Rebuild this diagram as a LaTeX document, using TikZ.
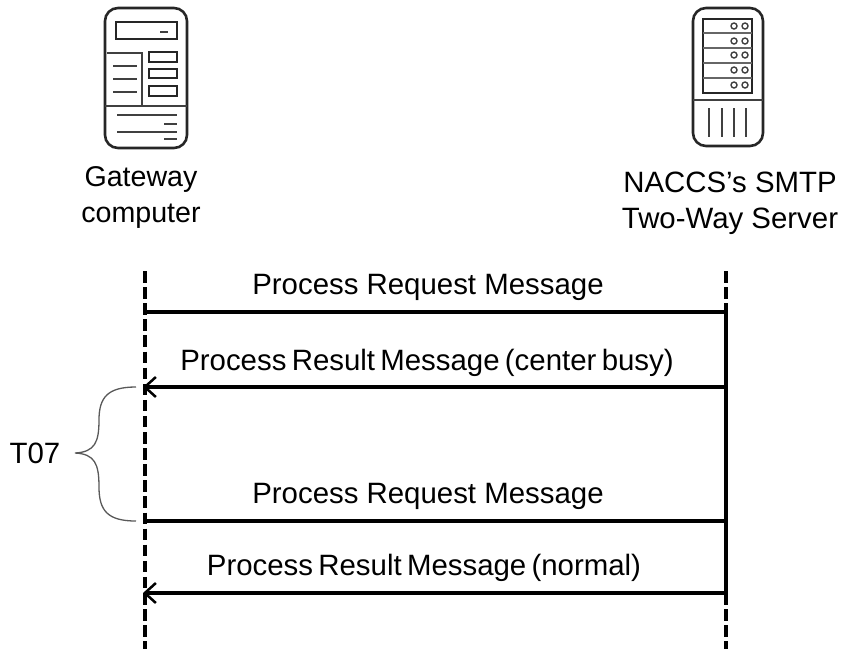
\documentclass[tikz,border=0pt]{standalone}
\usepackage{fontspec}
\setmainfont{Liberation Sans}
\newcommand{\tightspace}{\spaceskip=5.3pt\relax}
\tikzset{
  lifeline/.style={line width=4pt,dash pattern=on 11.5pt off 4.6pt},
  msgline/.style={line width=3.5pt},
  msgarrow/.style={msgline,-{Straight Barb[length=11pt,width=20pt,line width=2.5pt]}},
  msgtext/.style={font=\fontsize{29.4}{36}\selectfont,inner sep=0pt},
  captext/.style={msgtext,align=center},
  iconthick/.style={draw=black!85,line width=2.6pt},
  iconthin/.style={draw=black!75,line width=1.4pt},
  bracket/.style={draw=black!65,line width=1.3pt}
}
\usetikzlibrary{arrows.meta}
\begin{document}
\begin{tikzpicture}[x=1pt,y=-1pt]
\useasboundingbox (0,0) rectangle (845,649);
\newcommand{\gwx}{145}
\newcommand{\srvx}{726}

% gateway computer
\draw[iconthick,rounded corners=13pt] (105,8) rectangle (187,148);
\draw[iconthick] (116,22) rectangle (177,39);
\draw[iconthin] (160,32) -- (168,32);
\draw[iconthin] (107,53) -- (142,53) -- (142,106);
\draw[iconthin] (113,66) -- (137,66);
\draw[iconthin] (113,79) -- (137,79);
\draw[iconthin] (113,92) -- (137,92);
\draw[iconthick] (149,52) rectangle (177,62);
\draw[iconthick] (149,69) rectangle (177,78);
\draw[iconthick] (149,86) rectangle (177,96);
\draw[iconthin] (105,106) -- (187,106);
\draw[iconthin] (117,115) -- (177,115);
\draw[iconthin] (164,124) -- (177,124);
\draw[iconthin] (117,132) -- (177,132);
\draw[iconthin] (164,139) -- (177,139);

% server
\draw[iconthick,rounded corners=13pt] (693,8) rectangle (763,146);
\draw[iconthick] (703,19) rectangle (752,93);
\draw[iconthick,draw=black!60] (703,33) -- (752,33);
\draw[iconthick,draw=black!60] (703,48) -- (752,48);
\draw[iconthick,draw=black!60] (703,63) -- (752,63);
\draw[iconthick,draw=black!60] (703,78) -- (752,78);
\foreach \y in {26,41,55,70,85}{
  \draw[iconthin] (734,\y) circle (3pt);
  \draw[iconthin] (745,\y) circle (3pt);
}
\draw[iconthin] (693,100) -- (763,100);
\draw[iconthin] (709,108) -- (709,137);
\draw[iconthin] (722,108) -- (722,137);
\draw[iconthin] (734,108) -- (734,137);
\draw[iconthin] (746,108) -- (746,137);

\node[captext,font=\fontsize{28.6}{36}\selectfont] (gwlabel) at (141,197) {Gateway\\computer};
\node[captext] (srvlabel) at (730,203) {NACCS’s SMTP\\Two-Way Server};

% lifelines
\coordinate (gwtop) at (\gwx,271);
\coordinate (gwbot) at (\gwx,649);
\coordinate (srvtop) at (\srvx,271);
\coordinate (srvbot) at (\srvx,649);
\coordinate (srvsolida) at (\srvx,305);
\coordinate (srvsolidb) at (\srvx,604);
\draw[lifeline] (gwtop) -- (gwbot);
\draw[lifeline] (srvtop) -- (srvbot);
\draw[line width=4pt] (srvsolida) -- (srvsolidb);

% messages
\coordinate (reqa) at (\srvx,312);
\coordinate (reqaend) at (\gwx,312);
\coordinate (resa) at (\srvx,387);
\coordinate (resaend) at (143,387);
\coordinate (reqb) at (\srvx,521);
\coordinate (reqbend) at (\gwx,521);
\coordinate (resb) at (\srvx,593);
\coordinate (resbend) at (143,593);
\draw[msgline] (reqa) -- (reqaend);
\draw[msgarrow] (resa) -- (resaend);
\draw[msgline] (reqb) -- (reqbend);
\draw[msgarrow] (resb) -- (resbend);
\node[msgtext,anchor=base] (reqatext) at (428,294) {Process Request Message};
\node[msgtext,anchor=base] (resatext) at (427,370) {\tightspace Process Result Message (center busy)};
\node[msgtext,anchor=base] (reqbtext) at (428,503) {Process Request Message};
\node[msgtext,anchor=base] (resbtext) at (424,575) {\tightspace Process Result Message (normal)};

% timer bracket
\coordinate (brtop) at (136,387);
\coordinate (brtip) at (75,453);
\coordinate (brbot) at (136,521);
\draw[bracket] (brtop) .. controls (108,387) and (99,397) .. (99,420)
  .. controls (99,442) and (95,452) .. (brtip)
  .. controls (95,454) and (99,464) .. (99,487)
  .. controls (99,511) and (108,521) .. (brbot);
\node[msgtext,anchor=base] (timer) at (35,463) {T07};
\end{tikzpicture}
\end{document}
